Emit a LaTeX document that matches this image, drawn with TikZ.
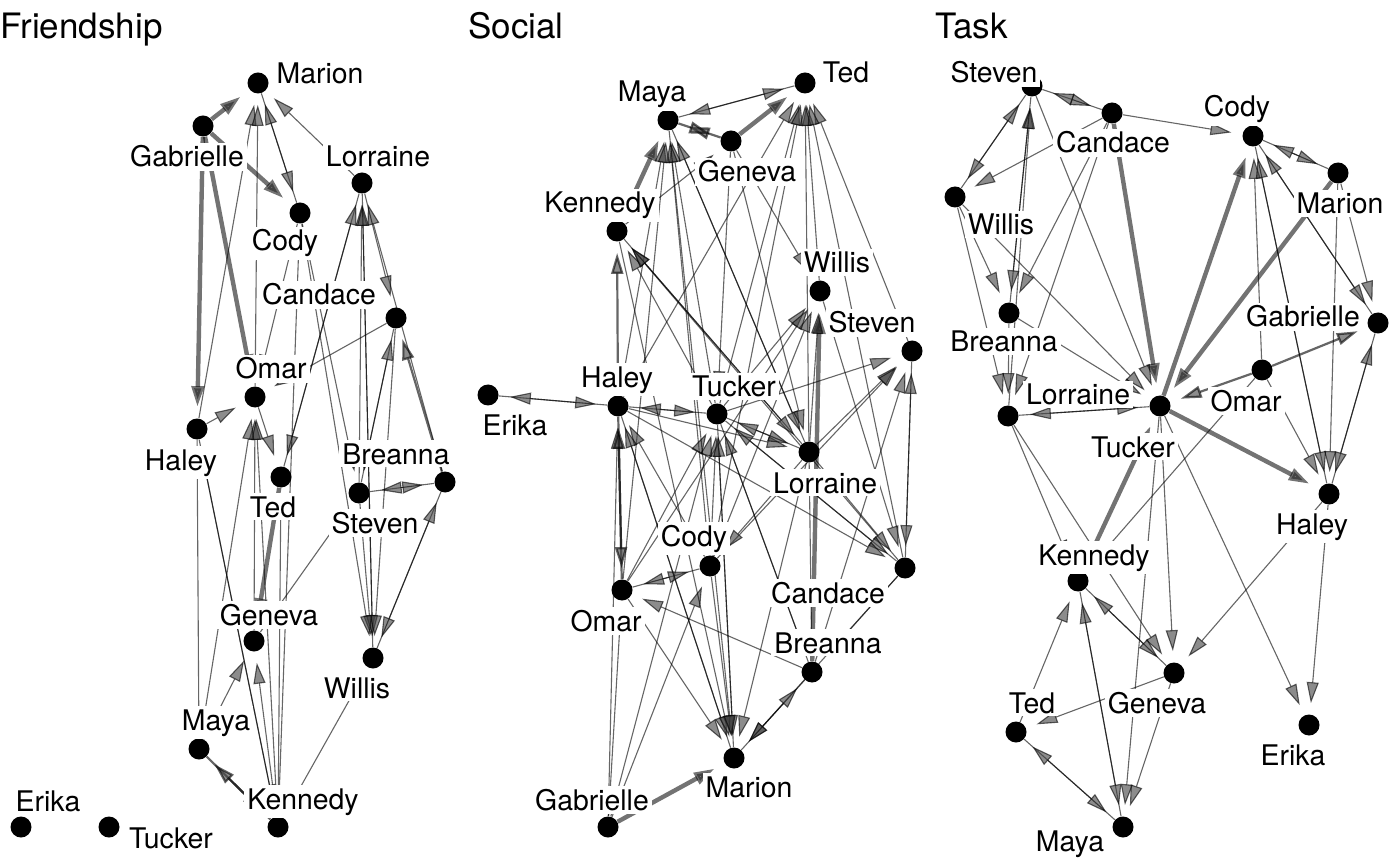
\documentclass[tikz,border=0pt]{standalone}
\usepackage{fontspec}
\setmainfont{TeX Gyre Heros}
\usetikzlibrary{arrows.meta}

\tikzset{
  actor/.style={circle, fill=black, inner sep=0pt, minimum size=10.5pt},
  tag/.style={fill=white, inner sep=1.5pt, anchor=base, font=\fontsize{14.2}{16}\selectfont},
  head/.style={inner sep=0pt, anchor=base west, font=\fontsize{17.5}{20}\selectfont},
  tie/.style={draw=black, opacity=.6, line width=.55pt, shorten >=5.5pt, -{Triangle[length=10.5pt,width=6pt,fill=black!75]}},
  tie2/.style={tie, line width=1.1pt},
  tie3/.style={tie, line width=2.2pt, opacity=.55},
}

\begin{document}
\begin{tikzpicture}[x=0.5pt, y=-0.5pt]
        \fill[white] (0,0) rectangle (1400,865);
        \useasboundingbox (0,0) rectangle (1400,865);

        % Friendship
        \node[head] (fhead) at (0,39) {Friendship};
        \node[actor] (fmar) at (258,83) {};
        \node[actor] (fgab) at (203,126) {};
        \node[actor] (flor) at (362,183) {};
        \node[actor] (fcod) at (300,213) {};
        \node[actor] (fcan) at (396,318) {};
        \node[actor] (foma) at (255,397) {};
        \node[actor] (fhal) at (197,429) {};
        \node[actor] (fted) at (281,477) {};
        \node[actor] (fste) at (359,493) {};
        \node[actor] (fbre) at (445,482) {};
        \node[actor] (fgen) at (254,641) {};
        \node[actor] (fwil) at (373,658) {};
        \node[actor] (fmay) at (199,749) {};
        \node[actor] (fken) at (278,827) {};
        \node[actor] (feri) at (21,827) {};
        \node[actor] (ftuc) at (109,827) {};

        \path[tie]
        (flor) edge (fmar) (fhal) edge (fmar) (foma) edge (fmar) (fcod) edge (fmar) (fmar) edge (fcod)
        (fhal) edge (foma) (foma) edge (fted) (flor) edge (fted)
        (fgen) edge (foma) (fken) edge (foma) (fmay) edge (foma)
        (fste) edge (flor) (fwil) edge (flor) (fted) edge (flor) (fbre) edge (flor) (flor) edge (fcan)
        (fste) edge (fbre) (fbre) edge (fste)
        (fste) edge (fwil) (flor) edge (fwil) (fcan) edge (fwil) (fcod) edge (fwil) (fbre) edge (fwil) (fwil) edge (fbre)
        (fmay) edge (fgen) (fken) edge (fgen) (fken) edge (fwil)
        (fken) edge (fhal) (fken) edge (fted) (fken) edge (fcod) (fhal) edge (fken) (fhal) edge (fmay)
        (fgen) edge (fste) (fcan) edge (foma) (fcod) edge (foma) (fcod) edge (fste) (fcan) edge (fste) (fste) edge (fcan);
        \path[tie2]
        (fmay) edge (fken) (fken) edge (fmay) (fbre) edge (fcan);
        \path[tie3]
        (fgab) edge (fmar) (fgab) edge (fcod) (fgab) edge (fhal) (fgab) edge (foma) (fted) edge (fgen);

        \node[tag] (fmarL) at (320,84) {Marion};
        \node[tag] (fgabL) at (187,167) {Gabrielle};
        \node[tag] (florL) at (378,167) {Lorraine};
        \node[tag] (fcodL) at (285,251) {Cody};
        \node[tag] (fcanL) at (319,305) {Candace};
        \node[tag] (fomaL) at (271,379) {Omar};
        \node[tag] (fhalL) at (181,470) {Haley};
        \node[tag] (ftedL) at (273,517) {Ted};
        \node[tag] (fbreL) at (396,464) {Breanna};
        \node[tag] (fsteL) at (375,533) {Steven};
        \node[tag] (fgenL) at (269,625) {Geneva};
        \node[tag] (fwilL) at (357,698) {Willis};
        \node[tag] (fmayL) at (216,730) {Maya};
        \node[tag] (fkenL) at (303,809) {Kennedy};
        \node[tag] (feriL) at (48,811) {Erika};
        \node[tag] (ftucL) at (171,848) {Tucker};

        % Social
        \node[head] (shead) at (468,39) {Social};
        \node[actor] (sted) at (805,83) {};
        \node[actor] (smay) at (668,120) {};
        \node[actor] (sgen) at (731,141) {};
        \node[actor] (sken) at (617,231) {};
        \node[actor] (swil) at (820,291) {};
        \node[actor] (sste) at (912,351) {};
        \node[actor] (shal) at (618,406) {};
        \node[actor] (seri) at (488,395) {};
        \node[actor] (stuc) at (717,414) {};
        \node[actor] (slor) at (809,452) {};
        \node[actor] (scod) at (710,566) {};
        \node[actor] (scan) at (905,568) {};
        \node[actor] (soma) at (622,590) {};
        \node[actor] (sbre) at (812,672) {};
        \node[actor] (smar) at (734,758) {};
        \node[actor] (sgab) at (608,827) {};

        \path[tie]
        (smay) edge (sted) (sted) edge (smay)
        (swil) edge (sted) (slor) edge (sted) (sste) edge (sted) (stuc) edge (sted) (shal) edge (sted) (scod) edge (sted) (scan) edge (sted)
        (shal) edge (smay) (stuc) edge (smay) (scod) edge (smay) (soma) edge (smay) (slor) edge (smay)
        (sgen) edge (swil) (sgen) edge (stuc) (sken) edge (sgen)
        (stuc) edge (sken) (slor) edge (sken) (scan) edge (sken)
        (stuc) edge (swil) (scod) edge (swil) (soma) edge (swil) (slor) edge (swil)
        (slor) edge (sste) (stuc) edge (sste) (scan) edge (sste) (scod) edge (sste) (sbre) edge (sste)
        (seri) edge (shal) (shal) edge (seri)
        (shal) edge (stuc) (stuc) edge (shal) (shal) edge (slor) (stuc) edge (slor) (slor) edge (stuc)
        (scod) edge (stuc) (soma) edge (stuc) (smar) edge (stuc) (sgab) edge (stuc) (sbre) edge (stuc) (scan) edge (stuc)
        (scod) edge (shal) (smar) edge (shal)
        (smay) edge (slor) (sken) edge (slor) (sgen) edge (slor)
        (slor) edge (scan) (sste) edge (scan) (swil) edge (scan) (stuc) edge (scan) (shal) edge (scan)
        (scod) edge (soma) (soma) edge (scod) (slor) edge (scod) (sgab) edge (scod)
        (sbre) edge (soma) (soma) edge (smar)
        (shal) edge (smar) (stuc) edge (smar) (scod) edge (smar) (sken) edge (smar) (smay) edge (smar) (scan) edge (smar) (slor) edge (smar)
        (sbre) edge (smar) (smar) edge (sbre)
        (sgab) edge (shal) (sgab) edge (soma)
        (scan) edge (sbre) (stuc) edge (sbre) (slor) edge (sbre);
        \path[tie2]
        (sgen) edge (smay) (smay) edge (sgen) (shal) edge (sken) (soma) edge (shal) (shal) edge (soma);
        \path[tie3]
        (sgen) edge (sted) (sken) edge (smay) (sbre) edge (swil) (sgab) edge (smar);

        \node[tag] (stedL) at (846,83) {Ted};
        \node[tag] (smayL) at (652,102) {Maya};
        \node[tag] (sgenL) at (747,182) {Geneva};
        \node[tag] (skenL) at (600,213) {Kennedy};
        \node[tag] (swilL) at (837,273) {Willis};
        \node[tag] (ssteL) at (872,333) {Steven};
        \node[tag] (shalL) at (617,387) {Haley};
        \node[tag] (seriL) at (515,435) {Erika};
        \node[tag] (stucL) at (734,397) {Tucker};
        \node[tag] (slorL) at (825,493) {Lorraine};
        \node[tag] (scodL) at (694,546) {Cody};
        \node[tag] (scanL) at (828,603) {Candace};
        \node[tag] (somaL) at (606,631) {Omar};
        \node[tag] (sbreL) at (828,653) {Breanna};
        \node[tag] (smarL) at (749,797) {Marion};
        \node[tag] (sgabL) at (592,810) {Gabrielle};

        % Task
        \node[head] (thead) at (935,39) {Task};
        \node[actor] (tste) at (1032,86) {};
        \node[actor] (tcan) at (1112,113) {};
        \node[actor] (tcod) at (1253,136) {};
        \node[actor] (tmar) at (1338,173) {};
        \node[actor] (twil) at (955,197) {};
        \node[actor] (tbre) at (1009,313) {};
        \node[actor] (tgab) at (1378,323) {};
        \node[actor] (toma) at (1262,370) {};
        \node[actor] (tlor) at (1008,416) {};
        \node[actor] (ttuc) at (1160,406) {};
        \node[actor] (thal) at (1329,494) {};
        \node[actor] (tken) at (1078,581) {};
        \node[actor] (tgen) at (1174,673) {};
        \node[actor] (tted) at (1016,732) {};
        \node[actor] (teri) at (1309,725) {};
        \node[actor] (tmay) at (1123,827) {};

        \path[tie]
        (tste) edge (tcan) (tcan) edge (tste) (tcan) edge (tcod) (twil) edge (tste) (tste) edge (twil) (tcan) edge (twil)
        (tbre) edge (tste) (tlor) edge (tste) (tste) edge (tbre) (twil) edge (tbre) (tcan) edge (tbre)
        (tcod) edge (tmar) (tmar) edge (tcod) (tgab) edge (tcod) (toma) edge (tcod) (thal) edge (tcod)
        (tmar) edge (tgab) (tcod) edge (tgab) (tmar) edge (thal)
        (thal) edge (tgab) (tgab) edge (thal) (toma) edge (thal) (tcod) edge (thal)
        (tste) edge (ttuc) (twil) edge (ttuc) (tbre) edge (ttuc) (tlor) edge (ttuc) (ttuc) edge (tlor)
        (toma) edge (tken)
        (ttuc) edge (tgen) (ttuc) edge (tmay) (ttuc) edge (teri) (thal) edge (teri) (thal) edge (tgen)
        (tlor) edge (tgen) (tlor) edge (tken) (tbre) edge (tlor) (twil) edge (tlor) (tcan) edge (tlor)
        (tken) edge (tgen) (tgen) edge (tken) (tted) edge (tken) (tmay) edge (tken)
        (tted) edge (tmay) (tmay) edge (tted) (tgen) edge (tted) (tgen) edge (tmay) (tken) edge (tmay);
        \path[tie2]
        (toma) edge (ttuc) (toma) edge (tgab);
        \path[tie3]
        (ttuc) edge (tcod) (tmar) edge (ttuc) (tcan) edge (ttuc) (ttuc) edge (thal) (tken) edge (ttuc);

        \node[tag] (tsteL) at (994,83) {Steven};
        \node[tag] (tcanL) at (1113,153) {Candace};
        \node[tag] (tcodL) at (1237,117) {Cody};
        \node[tag] (tmarL) at (1340,214) {Marion};
        \node[tag] (twilL) at (1001,235) {Willis};
        \node[tag] (tbreL) at (1004,352) {Breanna};
        \node[tag] (tgabL) at (1303,327) {Gabrielle};
        \node[tag] (tlorL) at (1078,405) {Lorraine};
        \node[tag] (tomaL) at (1246,411) {Omar};
        \node[tag] (ttucL) at (1133,457) {Tucker};
        \node[tag] (thalL) at (1312,534) {Haley};
        \node[tag] (tkenL) at (1094,565) {Kennedy};
        \node[tag] (tgenL) at (1157,713) {Geneva};
        \node[tag] (ttedL) at (1032,713) {Ted};
        \node[tag] (teriL) at (1293,765) {Erika};
        \node[tag] (tmayL) at (1070,851) {Maya};
    \end{tikzpicture}
\end{document}
